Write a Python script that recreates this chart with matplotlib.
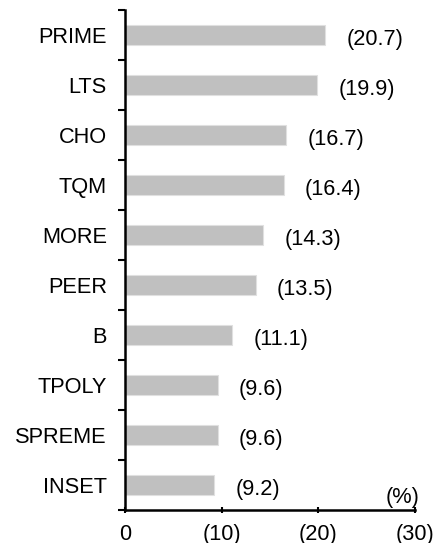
import matplotlib
matplotlib.use("Agg")
import matplotlib.pyplot as plt
import numpy as np

categories = ["PRIME", "LTS", "CHO", "TQM", "MORE", "PEER", "B", "TPOLY", "SPREME", "INSET"]
values = [20.7, 19.9, 16.7, 16.4, 14.3, 13.5, 11.1, 9.6, 9.6, 9.2]
value_labels = ["(20.7)", "(19.9)", "(16.7)", "(16.4)", "(14.3)", "(13.5)", "(11.1)", "(9.6)", "(9.6)", "(9.2)"]
xticks = [0, 10, 20, 30]
xtick_labels = ["0", "(10)", "(20)", "(30)"]

plt.rcParams['font.family'] = ['Liberation Sans', 'DejaVu Sans']
FS = 15.7

W, H = 437, 543
fig = plt.figure(figsize=(W / 100, H / 100), dpi=100)
ax = fig.add_axes([125 / W, 1 - 510 / H, (415 - 125) / W, (510 - 10) / H])

y = np.arange(len(categories))[::-1]
ax.barh(y, values, height=0.4, color="#C0C0C0", edgecolor="#E0E0E0", linewidth=0.8)
for yi, v, lab in zip(y, values, value_labels):
    ax.text(v + 2.2, yi - 0.08, lab, ha="left", va="center", fontsize=FS, color="black")

ax.set_xlim(0, 30)
ax.set_ylim(-0.5, len(categories) - 0.5)
ax.set_yticks(y)
ax.set_yticklabels(categories, fontsize=FS)
ax.set_yticks(np.arange(len(categories) + 1) - 0.5, minor=True)
ax.tick_params(axis="y", which="major", length=0, pad=13)
ax.tick_params(axis="y", which="minor", length=5, width=1.5, direction="out")
ax.set_xticks(xticks)
ax.set_xticklabels(xtick_labels, fontsize=FS)
ax.tick_params(axis="x", which="major", length=4.5, width=1.5, direction="inout", pad=8)

for s in ["top", "right"]:
    ax.spines[s].set_visible(False)
for s in ["left", "bottom"]:
    ax.spines[s].set_linewidth(1.8)

ax.text(30.5, -0.25, "(%)", ha="right", va="center", fontsize=FS)

fig.savefig("out.png", dpi=100)
